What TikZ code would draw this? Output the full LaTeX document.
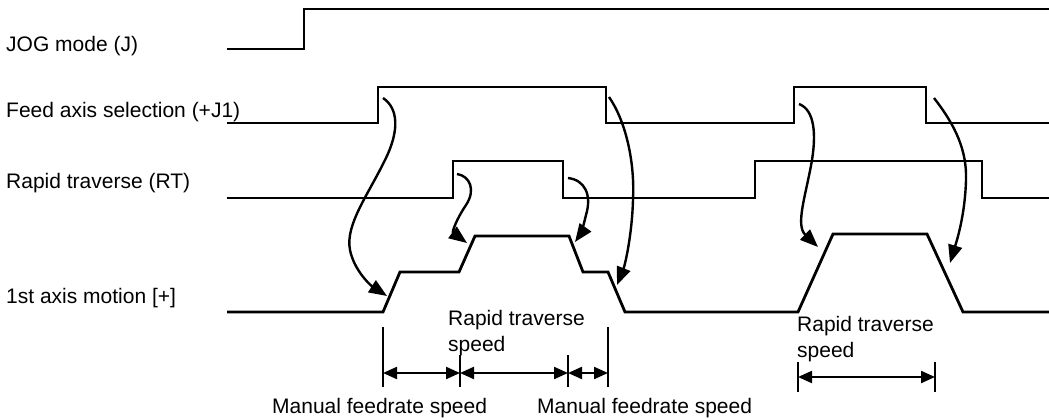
\documentclass[tikz,border=0pt]{standalone}
\usepackage{fontspec}
\setmainfont{Liberation Sans}
\usetikzlibrary{arrows.meta}

\begin{document}
\begin{tikzpicture}[x=1pt, y=-1pt,
  signal/.style={line width=2.8pt, line join=miter},
  cause/.style={line width=2.4pt, -{Triangle[length=18pt,width=14pt]}},
  dimline/.style={line width=2.2pt, {Triangle[length=14pt,width=12pt]}-{Triangle[length=14pt,width=12pt]}},
  dimtick/.style={line width=2.4pt},
  lbl/.style={anchor=base west, inner sep=0pt, font=\fontsize{21}{26}\selectfont, align=left}]

\useasboundingbox (0,0) rectangle (1049,420);

% Signal names
\node[lbl] (jogname) at (6,52) {JOG mode (J)};
\node[lbl] (feedname) at (6,117) {Feed axis selection (+J1)};
\node[lbl] (rtname) at (6,188) {Rapid traverse (RT)};
\node[lbl] (motname) at (6,303) {1st axis motion [+]};

% JOG mode
\draw[signal] (227,49) -- (304,49) -- (304,9) -- (1049,9);

% Feed axis selection
\draw[signal] (227,123) -- (378,123) -- (378,87) -- (606,87) -- (606,123)
  -- (794,123) -- (794,87) -- (926,87) -- (926,123) -- (1049,123);

% Rapid traverse
\draw[signal] (227,198) -- (453,198) -- (453,161) -- (563,161) -- (563,198)
  -- (755,198) -- (755,161) -- (982,161) -- (982,198) -- (1049,198);

% 1st axis motion
\draw[signal] (227,312) -- (383,312) -- (400,272) -- (459,272) -- (475,236)
  -- (569,236) -- (583,272) -- (608,272) -- (625,312) -- (798,312)
  -- (833,234) -- (927,234) -- (963,312) -- (1049,312);

% Cause and effect
\coordinate (feedon1) at (383,98);
\coordinate (feedoff1) at (609,97);
\coordinate (rton) at (457,174);
\coordinate (rtoff) at (568,178);
\coordinate (feedon2) at (799,104);
\coordinate (feedoff2) at (934,98);
\coordinate (accel1) at (387,296);
\coordinate (accel2) at (467,243);
\coordinate (decel2) at (575,242);
\coordinate (decel1) at (617,285);
\coordinate (accel3) at (818,247);
\coordinate (decel3) at (950,263);

\draw[cause] (feedon1) .. controls (398,108) and (400,130) .. (385,160)
  .. controls (368,195) and (345,225) .. (350,250)
  .. controls (354,270) and (370,285) .. (accel1);
\draw[cause] (rton) .. controls (470,176) and (476,190) .. (466,205)
  .. controls (456,220) and (452,232) .. (accel2);
\draw[cause] (rtoff) .. controls (585,180) and (592,195) .. (586,215)
  .. controls (583,228) and (580,235) .. (decel2);
\draw[cause] (feedoff1) .. controls (625,120) and (635,160) .. (633,200)
  .. controls (632,235) and (625,265) .. (decel1);
\draw[cause] (feedon2) .. controls (815,110) and (816,135) .. (812,160)
  .. controls (806,195) and (795,225) .. (accel3);
\draw[cause] (feedoff2) .. controls (955,125) and (967,150) .. (966,180)
  .. controls (965,215) and (957,240) .. (decel3);

% Speed intervals
\draw[dimtick] (383,327) -- (383,387);
\draw[dimtick] (460,355) -- (460,387);
\draw[dimtick] (568,355) -- (568,387);
\draw[dimtick] (608,327) -- (608,387);
\draw[dimtick] (798,362) -- (798,392);
\draw[dimtick] (935,362) -- (935,392);

\coordinate (m1a) at (383,373);
\coordinate (m1b) at (460,373);
\coordinate (r1b) at (568,373);
\coordinate (m2b) at (608,373);
\coordinate (r2a) at (798,377);
\coordinate (r2b) at (935,377);

\draw[dimline] (m1a) -- (m1b);
\draw[dimline] (m1b) -- (r1b);
\draw[dimline] (r1b) -- (m2b);
\draw[dimline] (r2a) -- (r2b);

\node[lbl] (rapid1) at (448,351) {Rapid traverse\\speed};
\node[lbl] (rapid2) at (797,357) {Rapid traverse\\speed};
\node[lbl] (manual1) at (272,413) {Manual feedrate speed};
\node[lbl] (manual2) at (537,413) {Manual feedrate speed};

\end{tikzpicture}
\end{document}
